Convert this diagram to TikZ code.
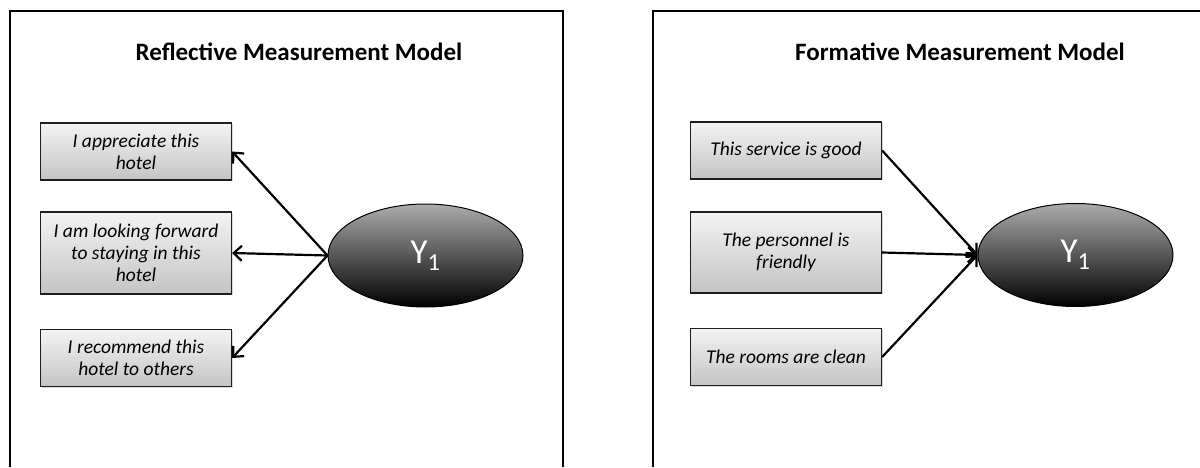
\documentclass[tikz,border=0pt]{standalone}
\usepackage{fontspec}
\setmainfont{Carlito}
\usetikzlibrary{arrows.meta,shapes.geometric,shadows}
\definecolor{boxtop}{RGB}{243,243,243}
\definecolor{boxbottom}{RGB}{196,196,196}
\definecolor{latenttop}{RGB}{172,172,172}
\definecolor{edgedark}{RGB}{30,30,30}

\begin{document}
\begin{tikzpicture}[x=1pt,y=1pt,
    indicator/.style={draw=edgedark,line width=1.3pt,top color=boxtop,bottom color=boxbottom,
      minimum width=191pt,minimum height=57pt,align=center,inner sep=2pt,
      font=\fontsize{19.5}{22}\selectfont\itshape,
      drop shadow={shadow xshift=1pt,shadow yshift=-1.2pt,opacity=0.3}},
    latent/.style={ellipse,draw=black,line width=1pt,top color=latenttop,bottom color=black,
      minimum width=195pt,minimum height=103pt,text=white,
      font=\fontsize{35}{40}\selectfont},
    panel/.style={line width=1.8pt},
    link/.style={line width=2.2pt,-{Straight Barb[length=8pt,width=15pt]}},
    heading/.style={anchor=base,font=\fontsize{25}{29}\selectfont\bfseries}]
  \useasboundingbox (0,0) rectangle (1200,467);

  % reflective model
  \draw[panel] (10,0) |- (563,456) -- (563,0);
  \node[heading] (reftitle) at (299,406) {Reflective Measurement Model};
  \node[indicator] (ref1) at (136,315.5) {I appreciate this\\hotel};
  \node[indicator,minimum height=82pt] (ref2) at (136,214) {I am looking forward\\to staying in this\\hotel};
  \node[indicator] (ref3) at (136,109) {I recommend this\\hotel to others};
  \node[latent] (refy) at (425.5,211.5) {Y\textsubscript{1}};
  \foreach \i in {1,2,3}
    \draw[link] (refy.west) -- (ref\i.east);

  % formative model
  \draw[panel] (653,0) |- (1200,456);
  \node[heading] (formtitle) at (960,406) {Formative Measurement Model};
  \node[indicator] (form1) at (786,316.5) {This service is good};
  \node[indicator,minimum height=81pt] (form2) at (786,214.5) {The personnel is\\friendly};
  \node[indicator] (form3) at (786,110) {The rooms are clean};
  \node[latent] (formy) at (1075.5,212) {Y\textsubscript{1}};
  \foreach \i in {1,2,3}
    \draw[link] (form\i.east) -- (formy.west);
\end{tikzpicture}
\end{document}
